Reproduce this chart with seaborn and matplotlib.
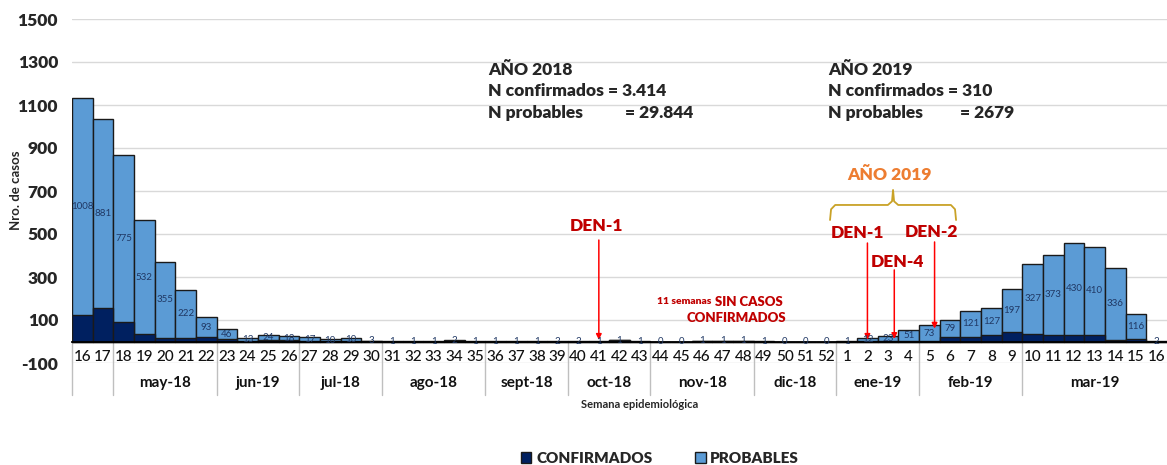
import matplotlib
matplotlib.use("Agg")
import matplotlib.pyplot as plt
from matplotlib.patches import Patch
import seaborn as sns
import pandas as pd

# ---------------- data ----------------
weeks = [16, 17, 18, 19, 20, 21, 22, 23, 24, 25, 26, 27, 28, 29, 30, 31, 32, 33, 34, 35,
         36, 37, 38, 39, 40, 41, 42, 43, 44, 45, 46, 47, 48, 49, 50, 51, 52,
         1, 2, 3, 4, 5, 6, 7, 8, 9, 10, 11, 12, 13, 14, 15, 16]
probables = [1008, 881, 775, 532, 355, 222, 93, 46, 13, 24, 18, 17, 10, 10, 3, 1, 1, 1, 2, 1,
             1, 1, 1, 2, 2, 1, 1, 1, 0, 0, 1, 1, 1, 1, 0, 0, 0,
             1, 12, 23, 51, 73, 79, 121, 127, 197, 327, 373, 430, 410, 336, 116, 2]
confirmados = [123, 154, 92, 33, 16, 18, 20, 10, 2, 6, 7, 2, 1, 4, 1, 0, 0, 0, 3, 0,
               0, 0, 0, 0, 0, 0, 5, 0, 0, 0, 2, 2, 2, 0, 0, 0, 0,
               0, 2, 3, 3, 3, 22, 22, 30, 46, 35, 30, 30, 30, 7, 10, 0]
month_labels = ["", "may-18", "jun-19", "jul-18", "ago-18", "sept-18", "oct-18",
                "nov-18", "dic-18", "ene-19", "feb-19", "mar-19"]
month_lengths = [2, 5, 4, 4, 5, 4, 4, 5, 4, 4, 5, 7]
y_ticks = [-100, 100, 300, 500, 700, 900, 1100, 1300, 1500]

LIGHT = "#5B9BD5"
DARK = "#002060"
RED = "#C00000"
HB = "heavy"

sns.set_style("white")
plt.rcParams["font.family"] = ["Lato", "DejaVu Sans"]

keys = [f"{i:02d}-{w}" for i, w in enumerate(weeks)]
df = pd.DataFrame({
    "key": keys,
    "total": [p + c for p, c in zip(probables, confirmados)],
    "conf": confirmados,
})

W, H = 1167, 465
fig = plt.figure(figsize=(W / 100, H / 100), dpi=100)
ax = fig.add_axes([72 / W, 1 - 363 / H, (W - 72) / W, (363 - 19) / H])

sns.barplot(data=df, x="key", y="total", order=keys, color=LIGHT, width=1.0,
            edgecolor="#1a1a1a", linewidth=1.0, saturation=1, ax=ax, zorder=2)
sns.barplot(data=df, x="key", y="conf", order=keys, color=DARK, width=1.0,
            edgecolor="#1a1a1a", linewidth=1.0, saturation=1, ax=ax, zorder=3)

ax.set_xlim(-0.5, len(weeks) - 0.5)
ax.set_ylim(-100, 1500)
ax.set_yticks(y_ticks)
ax.set_yticklabels([str(t) for t in y_ticks], fontsize=12.5, fontweight=HB)
ax.grid(axis="y", color="#D9D9D9", lw=1, zorder=0)
ax.grid(axis="x", visible=False)
for s in ["left", "right", "top"]:
    ax.spines[s].set_visible(False)
ax.spines["bottom"].set_position(("data", 0))
ax.spines["bottom"].set_color("black")
ax.spines["bottom"].set_linewidth(1.3)
ax.spines["bottom"].set_zorder(4)
ax.set_xticks(range(len(weeks)))
ax.set_xticklabels([str(w) for w in weeks], fontsize=11, fontweight="medium",
                   color="#111111")
ax.tick_params(axis="x", length=0, pad=6)
ax.tick_params(axis="y", length=0, pad=10)
ax.set_xlabel("")
ax.set_ylabel("")

# value labels (probables) centered in probable segment
for i, (p, c) in enumerate(zip(probables, confirmados)):
    ax.text(i, c + p / 2, str(p), ha="center", va="center", fontsize=7,
            color="#203864", zorder=5)

# month group labels and separators
start = 0
for lab, n in zip(month_labels, month_lengths):
    ax.plot([start - 0.5, start - 0.5], [-7, -250], color="#BFBFBF", lw=1,
            clip_on=False, zorder=1)
    if lab:
        ax.text(start + (n - 1) / 2, -193, lab, ha="center", va="center",
                fontsize=11, fontweight="bold", color="#111111", clip_on=False)
    start += n

ax.text(26.99, -295, "Semana epidemiológica", ha="center", va="center",
        fontsize=8, fontweight="bold", clip_on=False)
fig.text(16 / W, 1 - 190 / H, "Nro. de casos", rotation=90, ha="center",
         va="center", fontsize=9.5, fontweight="bold")

# summary text blocks
def block(x0, xeq, year, nconf, nprob):
    kw = dict(fontsize=12.5, fontweight=HB, va="center")
    ax.text(x0, 1263, f"AÑO {year}", **kw)
    ax.text(x0, 1163, f"N confirmados = {nconf}", **kw)
    ax.text(x0, 1063, "N probables", **kw)
    ax.text(xeq, 1063, f"= {nprob}", **kw)

block(19.64, 26.25, 2018, "3.414", "29.844")
block(36.09, 42.5, 2019, "310", "2679")

# DEN annotations
arrow = dict(arrowstyle="-|>", color="#FF0000", lw=1.1, mutation_scale=8,
             shrinkA=0, shrinkB=0)
dkw = dict(color=RED, fontsize=12.5, fontweight=HB, ha="center", va="center")
ax.text(24.91, 537, "DEN-1", **dkw)
ax.annotate("", xy=(25, 8), xytext=(25, 472), arrowprops=arrow)
ax.text(37.5, 505, "DEN-1", **dkw)
ax.annotate("", xy=(38, 8), xytext=(38, 458), arrowprops=arrow)
ax.text(39.43, 370, "DEN-4", **dkw)
ax.annotate("", xy=(39.3, 12), xytext=(39.3, 333), arrowprops=arrow)
ax.text(41.1, 509, "DEN-2", **dkw)
ax.annotate("", xy=(41.25, 60), xytext=(41.25, 463), arrowprops=arrow)

ax.text(30.45, 184, "11 semanas", color=RED, fontsize=7.5, fontweight=HB,
        ha="right", va="center")
ax.text(33.9, 184, "SIN CASOS", color=RED, fontsize=9.5, fontweight=HB,
        ha="right", va="center")
ax.text(34.06, 109, "CONFIRMADOS", color=RED, fontsize=9.5, fontweight=HB,
        ha="right", va="center")

# orange year label with brace
ax.text(39.09, 774, "AÑO 2019", color="#ED7D31", fontsize=12.5, fontweight=HB,
        ha="center", va="center")
bx = [36.19, 36.24, 36.44, 38.99, 39.19, 39.24, 39.29, 39.49, 42.04, 42.24, 42.29]
by = [565, 615, 635, 635, 652, 705, 652, 635, 635, 615, 565]
ax.plot(bx, by, color="#C9A227", lw=1.3, solid_joinstyle="round")

# legend
handles = [Patch(facecolor=DARK, edgecolor="#1a1a1a", label="CONFIRMADOS"),
           Patch(facecolor=LIGHT, edgecolor="#1a1a1a", label="PROBABLES")]
fig.legend(handles=handles, loc="center", bbox_to_anchor=(660 / W, 1 - 458 / H),
           ncol=2, frameon=False, handlelength=0.7, handleheight=0.7,
           handletextpad=0.3, columnspacing=2.8,
           prop={"weight": HB, "size": 11})

fig.savefig("out.png", dpi=100)
